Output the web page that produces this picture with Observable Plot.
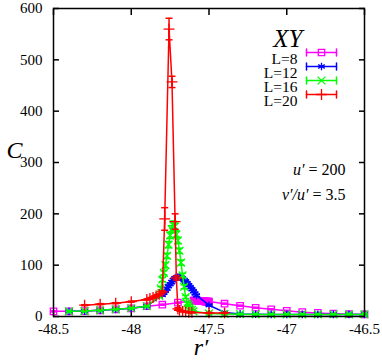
<!DOCTYPE html>
<html><head><meta charset="utf-8">
<script src="https://cdn.jsdelivr.net/npm/d3@7"></script>
<script src="https://cdn.jsdelivr.net/npm/@observablehq/plot@0.6"></script>
<style>body{margin:0;background:#fff} svg, svg text{font-family:"Liberation Serif",serif}</style>
</head><body><div id="chart"></div>
<script>
// ---------- data ----------
const xTicks = [-48.5, -48, -47.5, -47, -46.5];
const yTicks = [0, 100, 200, 300, 400, 500, 600];
const seriesNames = ["L=8", "L=12", "L=16", "L=20"];
const seriesColors = ["#ff00ff", "#0000ff", "#00ff00", "#ff0000"];
const seriesSymbols = ["square", "asterisk", "times", "plus"];

const L8_r = [-48.5,-48.4,-48.3,-48.2,-48.1,-48.0,-47.9,-47.8,-47.7,
  -47.600,-47.595,-47.590,-47.585,-47.580,-47.575,-47.570,-47.565,-47.560,-47.555,-47.550,
  -47.545,-47.540,-47.535,-47.530,-47.525,-47.520,-47.515,-47.510,-47.505,-47.500,
  -47.4,-47.3,-47.2,-47.1,-47.0,-46.9,-46.8,-46.7,-46.6,-46.5];
const L8_C = [10,10,10.5,12,14,16,20,23,27,
  31,31,31,31,31,31,30,30,30,30,30,
  30,30,30,30,29,29,29,29,29,29,
  25,21,17,14,11,8.5,7,5.5,4.5,4];
const L8_err = [1,1,1,1,1,1,1,1,1,
  4,4,4,4,4,4,4,4,4,4,4,
  4,4,4,4,4,4,4,4,4,4,
  1,1,1,1,1,1,1,1,1,1];

const L12_r = [-48.4,-48.3,-48.2,-48.1,-48.0,-47.9,
  -47.80,-47.79,-47.78,-47.77,-47.76,-47.75,-47.74,-47.73,-47.72,-47.71,-47.70,-47.69,
  -47.68,-47.67,-47.66,-47.65,-47.64,-47.63,-47.62,-47.61,-47.60,-47.59,-47.58,
  -47.5,-47.4,-47.3,-47.2,-47.1,-47.0,-46.9,-46.8,-46.7,-46.6,-46.5];
const L12_C = [10,10.5,12,14,16,20,
  42,46,50,54,59,63,67,71,74,76,77,77,
  76,74,71,68,65,61,57,53,49,45,41,
  22,8,5,4.5,4,4,4,4,4,4,4];
const L12_err = [1,1,1,1,1,1,
  2,2,2,2,2,2,3,3,3,3,3,3,
  3,3,3,3,2,2,2,2,2,2,2,
  1,1,1,1,1,1,1,1,1,1,1];

const L16_r = [-48.4,-48.3,-48.2,-48.1,-48.0,-47.9,
  -47.82,-47.81,-47.80,-47.79,-47.78,-47.77,-47.76,-47.75,-47.74,-47.73,-47.72,-47.71,
  -47.70,-47.69,-47.68,-47.67,-47.66,-47.65,-47.64,-47.63,-47.62,-47.61,-47.60,
  -47.5,-47.4,-47.3,-47.2,-47.1,-47.0,-46.9,-46.8,-46.7,-46.6,-46.5];
const L16_C = [10,10.5,12,14,16,20,
  40,55,72,85,100,118,140,158,170,178,175,160,
  148,128,105,80,58,38,25,22,17,13,10,
  6,5,4.5,4,4,4,4,4,4,4,4];
const L16_err = [1,1,1,1,1,1,
  3,3,4,4,5,5,6,6,7,8,7,6,
  6,5,5,4,4,3,3,2,2,1,1,
  1,1,1,1,1,1,1,1,1,1,1];

const L20_r = [-48.3,-48.2,-48.1,-48.0,-47.9,-47.88,-47.86,-47.84,-47.82,-47.80,
  -47.785,-47.757,-47.738,-47.718,-47.71,-47.70,-47.69,-47.67,-47.65,-47.63,-47.61,
  -47.5,-47.4];
const L20_C = [22,24,26,29,33,35,37,40,43,48,
  190,560,457,185,75,15,12,10,9,8,8,
  7,7];
const L20_err = [1,1,1,1,1,1,1,1,1,2,
  22,21,11,15,4,2,1,1,1,1,1,
  1,1];

const seriesR = [L8_r, L12_r, L16_r, L20_r];
const seriesC = [L8_C, L12_C, L16_C, L20_C];
const seriesE = [L8_err, L12_err, L16_err, L20_err];

// ---------- build ----------
const capSymbol = {draw(ctx, size) {const r = Math.sqrt(size / Math.PI); ctx.moveTo(-r, 0); ctx.lineTo(r, 0);}};
const lineShape = {draw(ctx, l) {ctx.moveTo(0, 0); ctx.lineTo(0, -l);}};

const marks = [];
seriesNames.forEach((name, i) => {
  const rows = seriesR[i].map((r, j) => ({r, C: seriesC[i][j], e: seriesE[i][j]}));
  const color = seriesColors[i];
  marks.push(Plot.line(rows, {x: "r", y: "C", stroke: color, strokeWidth: 1.5}));
  marks.push(Plot.ruleX(rows, {x: "r", y1: d => d.C - d.e, y2: d => d.C + d.e, stroke: color, strokeWidth: 1.5}));
  marks.push(Plot.dot(rows, {x: "r", y: d => d.C - d.e, symbol: capSymbol, r: 3.5, stroke: color, strokeWidth: 1.5}));
  marks.push(Plot.dot(rows, {x: "r", y: d => d.C + d.e, symbol: capSymbol, r: 3.5, stroke: color, strokeWidth: 1.5}));
  marks.push(Plot.dot(rows, {x: "r", y: "C", symbol: seriesSymbols[i], r: 3.6, stroke: color, fill: "none", strokeWidth: 1.3}));
  // legend entry
  const dy = 44 + 14 * i;
  marks.push(Plot.text([name], {frameAnchor: "top-right", text: d => d, dx: -67, dy, textAnchor: "end", fontSize: 15.5, fill: "black"}));
  marks.push(Plot.vector([name], {frameAnchor: "top-right", dx: -43, dy, rotate: 90, length: 30, anchor: "middle", shape: lineShape, stroke: color, strokeWidth: 1.5}));
  marks.push(Plot.vector([name], {frameAnchor: "top-right", dx: -58, dy, rotate: 0, length: 7, anchor: "middle", shape: lineShape, stroke: color, strokeWidth: 1.5}));
  marks.push(Plot.vector([name], {frameAnchor: "top-right", dx: -28, dy, rotate: 0, length: 7, anchor: "middle", shape: lineShape, stroke: color, strokeWidth: 1.5}));
  marks.push(Plot.dot([name], {frameAnchor: "top-right", dx: -43, dy, symbol: seriesSymbols[i], r: 3.6, stroke: color, fill: "none", strokeWidth: 1.3}));
});

const chart = Plot.plot({
  width: 382,
  height: 362,
  marginLeft: 53,
  marginRight: 18,
  marginTop: 8,
  marginBottom: 46,
  style: {fontFamily: "'Liberation Serif', serif", background: "white"},
  x: {domain: [-48.5, -46.5]},
  y: {domain: [0, 600]},
  marks: [
    Plot.axisX({anchor: "bottom", ticks: xTicks, tickSize: 0, tickPadding: 7, tickFormat: d => String(d), fontSize: 15, fill: "black", label: null}),
    Plot.axisX({anchor: "bottom", ticks: xTicks, tickSize: -6, tickFormat: () => "", label: null, strokeWidth: 1.5}),
    Plot.axisX({anchor: "top", ticks: xTicks, tickSize: -6, tickFormat: () => "", label: null, strokeWidth: 1.5}),
    Plot.axisY({anchor: "left", ticks: yTicks, tickSize: 0, tickPadding: 11, tickFormat: d => String(d), fontSize: 15, fill: "black", label: null}),
    Plot.axisY({anchor: "left", ticks: yTicks, tickSize: -6, tickFormat: () => "", label: null, strokeWidth: 1.5}),
    Plot.axisY({anchor: "right", ticks: yTicks, tickSize: -6, tickFormat: () => "", label: null, strokeWidth: 1.5}),
    ...marks,
    Plot.frame({stroke: "black", strokeWidth: 1.5}),
    Plot.text(["XY"], {frameAnchor: "top-right", text: d => d, dx: -62, dy: 21, fontSize: 25, fontStyle: "italic", fill: "black"}),
    Plot.text(["u′ = 200"], {frameAnchor: "top-right", text: d => d, dx: -19, dy: 155, textAnchor: "end", fontSize: 16, fill: "black", className: "math"}),
    Plot.text(["v′/u′ = 3.5"], {frameAnchor: "top-right", text: d => d, dx: -19, dy: 180, textAnchor: "end", fontSize: 16, fill: "black", className: "math"}),
    Plot.text(["C"], {frameAnchor: "left", text: d => d, dx: -47, dy: -12, fontSize: 24, fontStyle: "italic", fill: "black"}),
    Plot.text(["r′"], {frameAnchor: "bottom", text: d => d, dx: -8, dy: 38, fontSize: 24, fontStyle: "italic", fill: "black"})
  ]
});

// italic letters, upright numbers/operators in the formula annotations
chart.querySelectorAll(".math text").forEach(t => {
  const s = t.textContent;
  t.textContent = "";
  const runs = s.match(/[A-Za-z′\/]+|[^A-Za-z′\/]+/g);
  runs.forEach(run => {
    const ts = document.createElementNS("http://www.w3.org/2000/svg", "tspan");
    ts.textContent = run;
    if (/[A-Za-z]/.test(run)) ts.setAttribute("font-style", "italic");
    t.appendChild(ts);
  });
});
document.getElementById("chart").appendChild(chart);
</script>
</body></html>
